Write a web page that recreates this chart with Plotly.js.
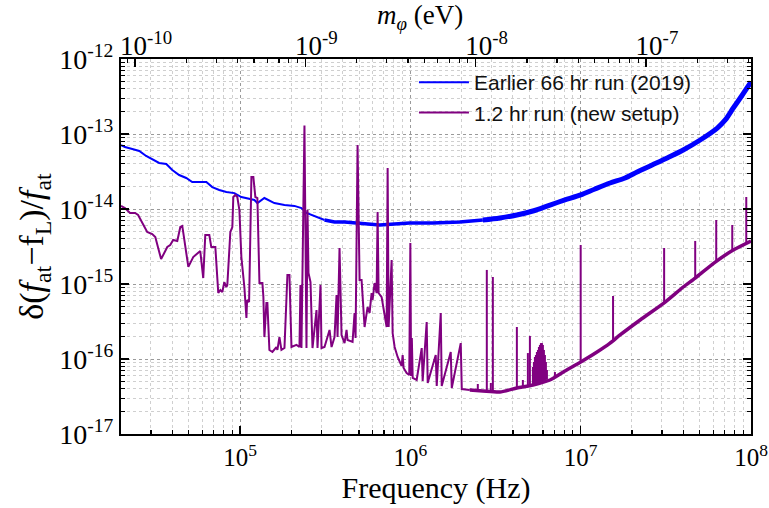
<!DOCTYPE html>
<html>
<head>
<meta charset="utf-8">
<script src="https://cdn.plot.ly/plotly-3.0.1.min.js"></script>
<style>html,body{margin:0;padding:0;background:#fff;}#chart{width:769px;height:508px;}</style>
</head>
<body>
<div id="chart"></div>
<script>
// ---- Earlier 66 hr run (2019), blue ----
const blueLowF = [2.0e4,2.11e4,2.33e4,2.56e4,2.81e4,3.13e4,3.35e4,3.69e4,4.0e4,4.39e4,
  4.83e4,5.24e4,6.34e4,6.87e4,7.55e4,8.31e4,9.26e4,1.018e5,1.214e5,1.264e5,
  1.39e5,1.59e5,1.823e5,2.086e5,2.294e5,2.455e5,2.627e5,2.85e5,3.133e5];
const blueLowV = [7.13e-14,6.70e-14,6.31e-14,5.94e-14,5.09e-14,4.50e-14,4.11e-14,3.98e-14,3.31e-14,2.84e-14,
  2.59e-14,2.29e-14,2.29e-14,1.96e-14,1.79e-14,1.69e-14,1.63e-14,1.445e-14,1.32e-14,1.20e-14,
  1.40e-14,1.20e-14,1.13e-14,1.10e-14,1.03e-14,8.85e-15,8.32e-15,7.82e-15,7.13e-15];
const blueMidF = [3.133e5,3.587e5,4.107e5,4.703e5,5.53e5,6.6e5,8.08e5,9.9e5,1.353e6,1.95e6,2.663e6];
const blueMidV = [7.13e-15,6.70e-15,6.70e-15,6.51e-15,6.31e-15,6.12e-15,6.31e-15,6.51e-15,6.51e-15,6.70e-15,7.13e-15];
const blueHighF = [2.663e6,3.353e6,4.22e6,5.242e6,6.6e6,8.08e6,1.0e7,1.214e7,1.487e7,1.823e7,
  2.144e7,2.627e7,3.218e7,4.0e7,5.03e7,6.34e7,7.06e7,7.868e7,8.89e7,1.0e8];
const blueHighV = [7.13e-15,7.59e-15,8.32e-15,9.40e-15,1.13e-14,1.32e-14,1.54e-14,1.85e-14,2.22e-14,2.59e-14,
  3.11e-14,3.86e-14,4.79e-14,6.12e-14,8.32e-14,1.20e-13,1.54e-13,2.22e-13,3.31e-13,4.94e-13];

// ---- 1.2 hr run (new setup), purple ----
const purpleF = [2.0e4,2.11e4,2.26e4,2.42e4,2.52e4,2.85e4,3.05e4,3.18e4,3.44e4,3.74e4,
  3.89e4,4.05e4,4.28e4,4.46e4,4.58e4,4.64e4,4.97e4,5.31e4,5.61e4,5.84e4,
  6.08e4,6.25e4,6.60e4,6.78e4,7.16e4,7.45e4,7.66e4,7.87e4,8.08e4,8.31e4,
  8.42e4,8.77e4,9.01e4,9.13e4,9.38e4,9.64e4,9.91e4,1.018e5,1.06e5,1.09e5,
  1.10e5,1.13e5,1.166e5,1.197e5,1.23e5,1.264e5,1.30e5,1.353e5,1.371e5,1.39e5,
  1.428e5,1.447e5,1.487e5,1.549e5,1.635e5,1.657e5,1.703e5,1.75e5,1.823e5,1.897e5,
  1.95e5,2.004e5,2.144e5,2.233e5,2.263e5,2.294e5,2.389e5,2.455e5,2.489e5,2.523e5,
  2.592e5,2.663e5,2.811e5,2.85e5,2.968e5,3.008e5,3.133e5,3.353e5,3.445e5,3.587e5,
  3.686e5,3.736e5,3.838e5,3.89e5,3.944e5,4.107e5,4.22e5,4.277e5,4.577e5,4.703e5,
  4.767e5,4.898e5,4.965e5,5.033e5,5.17e5,5.242e5,5.385e5,5.61e5,5.763e5,5.921e5,
  6.0e5,6.166e5,6.336e5,6.422e5,6.51e5,6.78e5,7.06e5,7.255e5,7.355e5,7.455e5,
  7.762e5,7.868e5,8.084e5,8.42e5,8.887e5,9.01e5,9.13e5,9.51e5,9.85e5,1.0e6,
  1.01e6,1.02e6,1.032e6,1.089e6,1.166e6,1.181e6,1.247e6,1.264e6,1.409e6,1.428e6,
  1.508e6,1.528e6,1.726e6,1.75e6,1.976e6,2.004e6,2.233e6];
const purpleV = [1.10e-14,1.03e-14,8.85e-15,8.85e-15,8.32e-15,4.94e-15,4.64e-15,4.23e-15,2.15e-15,3.11e-15,
  3.31e-15,3.86e-15,3.75e-15,5.75e-15,5.94e-15,4.79e-15,1.69e-15,2.29e-15,2.59e-15,2.75e-15,
  1.20e-15,4.50e-15,4.50e-15,3.11e-15,3.11e-15,7.59e-16,8.32e-16,7.82e-16,1.06e-15,9.12e-16,
  9.70e-16,4.94e-15,5.75e-15,1.445e-14,1.54e-14,1.445e-14,9.70e-15,2.29e-15,9.12e-16,3.52e-16,
  6.12e-16,5.75e-16,2.67e-14,2.67e-14,1.445e-14,1.40e-14,1.03e-15,1.03e-15,6.70e-16,1.96e-16,
  5.58e-16,5.58e-16,1.32e-16,1.24e-16,1.445e-16,1.32e-16,1.96e-16,1.32e-16,1.40e-16,1.32e-15,
  1.32e-15,1.445e-16,1.54e-16,1.445e-16,9.70e-16,1.40e-16,1.30e-13,1.40e-16,9.70e-15,1.40e-15,
  1.06e-15,1.40e-16,4.50e-16,1.40e-16,9.70e-16,1.40e-16,1.445e-16,2.44e-16,1.445e-16,1.96e-16,
  7.13e-16,1.96e-16,3.02e-15,1.13e-15,2.09e-16,1.63e-16,2.44e-16,1.79e-16,1.69e-16,4.11e-16,
  1.91e-16,7.13e-14,1.40e-14,1.13e-15,1.13e-15,6.70e-16,2.67e-16,4.94e-16,4.11e-16,7.59e-16,
  6.12e-16,1.03e-15,7.59e-16,9.12e-15,7.59e-16,6.70e-16,4.11e-16,2.67e-16,3.52e-14,2.67e-16,
  2.09e-15,2.22e-16,1.445e-16,1.063e-16,8.07e-17,1.13e-16,7.59e-17,6.51e-17,6.12e-17,3.52e-15,
  5.94e-17,1.91e-16,5.58e-17,5.25e-17,1.40e-16,5.09e-17,3.11e-16,4.79e-17,1.13e-16,4.37e-17,
  4.11e-16,4.37e-17,1.24e-16,4.11e-17,1.63e-16,3.98e-17,3.86e-17];
// smooth floor of the new run above 2 MHz
const baseF = [2.233e6,2.663e6,3.353e6,4.22e6,5.242e6,6.6e6,8.08e6,1.0e7,1.247e7,1.487e7,
  1.703e7,2.233e7,3.133e7,4.0e7,4.703e7,6.166e7,7.868e7,1.0e8];
const baseV = [3.86e-17,3.75e-17,3.63e-17,4.11e-17,4.50e-17,5.25e-17,6.92e-17,9.12e-17,1.24e-16,1.63e-16,
  2.09e-16,3.31e-16,5.75e-16,9.12e-16,1.20e-15,1.96e-15,2.84e-15,3.75e-15];
// narrow peaks above 2 MHz
const spikeF = [2.489e6,2.811e6,2.968e6,3.05e6,4.22e6,4.577e6,4.898e6,5.033e6,
  5.242e6,5.313e6,5.385e6,5.459e6,5.533e6,5.61e6,5.686e6,5.763e6,5.842e6,5.921e6,6.0e6,6.083e6,6.166e6,6.25e6,6.336e6,
  7.06e6,1.0e7,1.549e7,3.09e7,4.703e7,6.25e7,7.762e7,9.38e7];
const spikeBase = [3.8e-17,3.72e-17,3.7e-17,3.68e-17,4.11e-17,4.3e-17,4.4e-17,4.45e-17,
  4.5e-17,4.6e-17,4.6e-17,4.7e-17,4.7e-17,4.8e-17,4.8e-17,4.9e-17,5.0e-17,5.0e-17,5.1e-17,5.1e-17,5.2e-17,5.3e-17,5.3e-17,
  5.8e-17,9.12e-17,1.75e-16,5.6e-16,1.20e-15,2.0e-15,2.8e-15,3.5e-15];
const spikePeak = [4.64e-17,1.54e-15,4.79e-17,1.24e-15,2.67e-16,5.25e-17,1.20e-16,2.03e-16,
  7.82e-17,9.12e-17,1.063e-16,1.13e-16,1.24e-16,1.32e-16,1.445e-16,1.54e-16,1.63e-16,1.63e-16,1.54e-16,1.32e-16,1.13e-16,9.12e-17,7.13e-17,
  6.70e-17,3.31e-15,6.92e-16,3.02e-15,3.75e-15,7.13e-15,6.12e-15,1.445e-14];

// ---- axes ----
const xTickVals = [1e5,1e6,1e7,1e8];
const xTickText = ['10<sup>5</sup>','10<sup>6</sup>','10<sup>7</sup>','10<sup>8</sup>'];
const yTickVals = [1e-17,1e-16,1e-15,1e-14,1e-13,1e-12];
const yTickText = ['10<sup>-17</sup>','10<sup>-16</sup>','10<sup>-15</sup>','10<sup>-14</sup>','10<sup>-13</sup>','10<sup>-12</sup>'];
const mTickVals = [1e-10,1e-9,1e-8,1e-7];
const mTickText = ['10<sup>-10</sup>','10<sup>-9</sup>','10<sup>-8</sup>','10<sup>-7</sup>'];
const F_MIN = 2e4, F_MAX = 1e8;
const H_EV = 4.135667696e-15; // eV per Hz (Planck constant)

function minorVals(e0, e1) {
  const out = [];
  for (let e = e0; e < e1; e++) for (let d = 2; d <= 9; d++) out.push(d * Math.pow(10, e));
  return out;
}

const BLUE = '#0000ff', PURPLE = '#800080';
const spikeX = [], spikeY = [];
spikeF.forEach((f, i) => { spikeX.push(f, f, null); spikeY.push(spikeBase[i], spikePeak[i], null); });

const traces = [
  {x: blueLowF, y: blueLowV, mode: 'lines', line: {color: BLUE, width: 2}, name: 'Earlier 66 hr run (2019)'},
  {x: blueMidF, y: blueMidV, mode: 'lines', line: {color: BLUE, width: 3.4}, showlegend: false},
  {x: blueHighF, y: blueHighV, mode: 'lines', line: {color: BLUE, width: 5, shape: 'spline', smoothing: 0.8}, showlegend: false},
  {x: purpleF, y: purpleV, mode: 'lines', line: {color: PURPLE, width: 2}, name: '1.2 hr run (new setup)'},
  {x: baseF, y: baseV, mode: 'lines', line: {color: PURPLE, width: 3.5, shape: 'spline', smoothing: 0.6}, showlegend: false},
  {x: spikeX, y: spikeY, mode: 'lines', line: {color: PURPLE, width: 2}, connectgaps: false, showlegend: false},
  // invisible carrier so the top (mass) axis is drawn
  {x: [F_MIN * H_EV, F_MAX * H_EV], y: [1e-12, 1e-12], xaxis: 'x2', yaxis: 'y', mode: 'markers',
   marker: {opacity: 0, size: 1}, showlegend: false, hoverinfo: 'skip'}
];

const serif = 'Liberation Serif, Times New Roman, serif';
const gridMajor = '#9a9a9a', gridMinor = '#cfcfcf';

const layout = {
  width: 769, height: 508,
  margin: {l: 121, r: 18, t: 59, b: 74},
  paper_bgcolor: '#fff', plot_bgcolor: '#fff',
  showlegend: true,
  legend: {x: 0.465, y: 0.992, xanchor: 'left', yanchor: 'top', bgcolor: 'rgba(255,255,255,0)',
    font: {family: 'Liberation Sans, Arial, sans-serif', size: 21, color: '#111'}, itemwidth: 50, tracegroupgap: 0},
  annotations: [{
    text: '<i>m</i><sub><i>φ</i></sub> (eV)', xref: 'paper', yref: 'paper', x: 0.474, y: 1.112,
    xanchor: 'center', yanchor: 'middle', showarrow: false, font: {family: serif, size: 27, color: '#000'}
  }],
  xaxis: {
    type: 'log', range: [Math.log10(F_MIN), Math.log10(F_MAX)],
    tickmode: 'array', tickvals: xTickVals, ticktext: xTickText,
    ticks: 'inside', ticklen: 8, tickwidth: 1.5, tickcolor: '#000',
    showline: true, linecolor: '#000', linewidth: 2, mirror: false,
    showgrid: true, gridcolor: gridMajor, griddash: 'dot', gridwidth: 1,
    minor: {tickmode: 'array', tickvals: minorVals(4, 8), ticks: 'inside', ticklen: 4, tickwidth: 1.2, tickcolor: '#000',
      showgrid: true, gridcolor: gridMinor, griddash: 'dot', gridwidth: 1},
    tickfont: {family: serif, size: 25, color: '#000'},
    title: {text: 'Frequency (Hz)', font: {family: serif, size: 30, color: '#000'}, standoff: 4},
    zeroline: false
  },
  xaxis2: {
    type: 'log', overlaying: 'x', side: 'top', anchor: 'y',
    range: [Math.log10(F_MIN * H_EV), Math.log10(F_MAX * H_EV)],
    tickmode: 'array', tickvals: mTickVals, ticktext: mTickText,
    ticks: 'inside', ticklen: 8, tickwidth: 1.5, tickcolor: '#000',
    showline: true, linecolor: '#000', linewidth: 2,
    showgrid: false, ticklabelshift: 11, ticklabelstandoff: -9,
    minor: {tickmode: 'array', tickvals: minorVals(-11, -6), ticks: 'inside', ticklen: 4, tickwidth: 1.2, tickcolor: '#000', showgrid: false},
    tickfont: {family: serif, size: 27, color: '#000'},
    zeroline: false
  },
  yaxis: {
    type: 'log', range: [-17, -12],
    tickmode: 'array', tickvals: yTickVals, ticktext: yTickText,
    ticks: 'inside', ticklen: 8, tickwidth: 1.5, tickcolor: '#000',
    showline: true, linecolor: '#000', linewidth: 2, mirror: 'ticks',
    showgrid: true, gridcolor: gridMajor, griddash: 'dot', gridwidth: 1,
    minor: {tickmode: 'array', tickvals: minorVals(-17, -12), ticks: 'inside', ticklen: 4, tickwidth: 1.2, tickcolor: '#000',
      showgrid: true, gridcolor: gridMinor, griddash: 'dot', gridwidth: 1},
    tickfont: {family: serif, size: 28, color: '#000'},
    title: {text: 'δ(<i>f</i><sub>at</sub>−f<sub>L</sub>)/<i>f</i><sub>at</sub>', font: {family: serif, size: 34, color: '#000'}, standoff: 5},
    zeroline: false
  }
};

Plotly.newPlot('chart', traces, layout, {staticPlot: true, displayModeBar: false});
</script>
</body>
</html>
